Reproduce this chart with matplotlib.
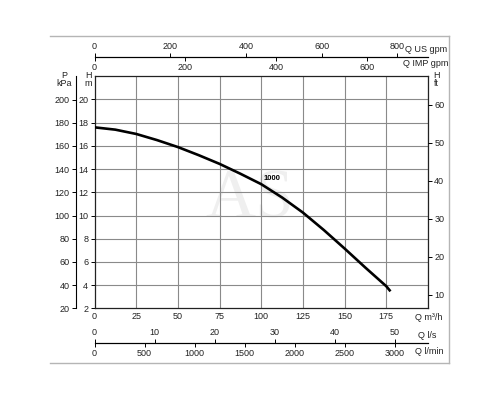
import numpy as np
import matplotlib.pyplot as plt
from matplotlib.lines import Line2D

plt.rcParams['font.family'] = ['Liberation Sans', 'DejaVu Sans']

# pump curve, Q in m3/h, H in m
q = [0, 12.5, 25, 37.5, 50, 62.5, 75, 87.5, 100, 112.5, 125, 137.5, 150, 162.5, 175, 177]
h = [17.6, 17.4, 17.03, 16.5, 15.9, 15.2, 14.45, 13.6, 12.7, 11.55, 10.25, 8.75, 7.15, 5.5, 3.9, 3.55]
curve_name = "1000"

q_ticks = [0, 25, 50, 75, 100, 125, 150, 175]
h_ticks = [2, 4, 6, 8, 10, 12, 14, 16, 18, 20]
p_ticks = [20, 40, 60, 80, 100, 120, 140, 160, 180, 200]
ft_ticks = [10, 20, 30, 40, 50, 60]
us_ticks = [0, 200, 400, 600, 800]
imp_ticks = [0, 200, 400, 600]
ls_ticks = [0, 10, 20, 30, 40, 50]
lmin_ticks = [0, 500, 1000, 1500, 2000, 2500, 3000]

QMAX = 200
W, H = 500, 400
fs = 6.5

def fx(px):
    return px / W

def fy(py):
    return 1 - py / H

fig = plt.figure(figsize=(5, 4), dpi=100)
L, R, T, B = 94.5, 428, 76.3, 308.3
ax = fig.add_axes([fx(L), fy(B), fx(R) - fx(L), fy(T) - fy(B)])

# watermark
ax.text(93, 11.3, "AS", fontsize=50, family='Liberation Serif', color='#efefef',
        ha='center', va='center', zorder=0)
ax.plot(q, h, color='black', lw=1.9, zorder=3)
ax.text(101.5, 13.15, curve_name, fontsize=5.5, fontweight='bold', ha='left', va='center',
        zorder=4)

ax.set_xlim(0, QMAX)
ax.set_ylim(2, 22)
for v in q_ticks[1:] + [QMAX]:
    ax.axvline(v, color='#8a8a8a', lw=0.8, zorder=1)
for v in h_ticks[1:]:
    ax.axhline(v, color='#8a8a8a', lw=0.8, zorder=1)
ax.set_xticks(q_ticks)
ax.set_yticks(h_ticks)
ax.tick_params(axis='x', length=0, pad=3, labelsize=fs, labelcolor='#222222')
ax.tick_params(axis='y', length=3, width=0.7, pad=1.5, labelsize=fs, labelcolor='#222222')
for s in ax.spines.values():
    s.set_linewidth(0.9)
    s.set_color('#222222')

# P kPa axis
axp = ax.twinx()
axp.set_ylim(20, 220)
axp.set_yticks(p_ticks)
axp.yaxis.set_ticks_position('left')
axp.yaxis.set_label_position('left')
axp.spines['left'].set_position(('axes', (76 - L) / (R - L)))
for k in ['right', 'top', 'bottom']:
    axp.spines[k].set_visible(False)
axp.spines['left'].set_linewidth(0.8)
axp.tick_params(axis='y', length=3, width=0.7, pad=1.5, labelsize=fs, labelcolor='#222222')

# ft axis
axf = ax.twinx()
axf.set_ylim(6.5, 67.5)
axf.set_yticks(ft_ticks)
for k in ['left', 'top', 'bottom', 'right']:
    axf.spines[k].set_visible(False)
axf.tick_params(axis='y', length=3, width=0.7, pad=1.5, labelsize=fs, labelcolor='#222222')

# flow scales above and below
def scale_axis(ypx, xmax, ticks, side):
    a = fig.add_axes([fx(L), fy(ypx), fx(R) - fx(L), 0.0001])
    a.set_xlim(0, xmax)
    a.set_yticks([])
    a.set_xticks(ticks)
    for k in ['left', 'right', 'top']:
        a.spines[k].set_visible(False)
    a.spines['bottom'].set_linewidth(0.8)
    a.patch.set_alpha(0)
    if side == 'top':
        a.tick_params(axis='x', bottom=False, labelbottom=False, top=True, labeltop=True,
                      length=3, width=0.7, pad=1, labelsize=fs, labelcolor='#222222')
    else:
        a.tick_params(axis='x', length=3, width=0.7, pad=1, labelsize=fs, labelcolor='#222222')
    return a

scale_axis(57, QMAX / 0.2271, us_ticks, 'top')
scale_axis(57, QMAX / 0.2728, imp_ticks, 'bottom')
scale_axis(343, QMAX / 3.6, ls_ticks, 'top')
scale_axis(343, QMAX / 0.06, lmin_ticks, 'bottom')

# unit labels
tc = '#222222'
fig.text(fx(405), fy(50), "Q US gpm", fontsize=fs, va='center', color=tc)
fig.text(fx(403), fy(63.5), "Q IMP gpm", fontsize=fs, va='center', color=tc)
fig.text(fx(64), fy(75), "P", fontsize=fs, ha='center', va='center', color=tc)
fig.text(fx(64), fy(84), "kPa", fontsize=fs, ha='center', va='center', color=tc)
fig.text(fx(88), fy(75), "H", fontsize=fs, ha='center', va='center', color=tc)
fig.text(fx(88), fy(84), "m", fontsize=fs, ha='center', va='center', color=tc)
fig.text(fx(436), fy(75), "H", fontsize=fs, ha='center', va='center', color=tc)
fig.text(fx(436), fy(84), "ft", fontsize=fs, ha='center', va='center', color=tc)
fig.text(fx(415), fy(317), "Q m³/h", fontsize=fs, va='center', color=tc)
fig.text(fx(418), fy(335), "Q l/s", fontsize=fs, va='center', color=tc)
fig.text(fx(415), fy(352), "Q l/min", fontsize=fs, va='center', color=tc)

# outer frame
c = '#b5b5b5'
fig.add_artist(Line2D([fx(50), fx(449)], [fy(36), fy(36)], color=c, lw=1))
fig.add_artist(Line2D([fx(50), fx(449)], [fy(363), fy(363)], color=c, lw=1))
fig.add_artist(Line2D([fx(449), fx(449)], [fy(36), fy(363)], color=c, lw=1))

fig.savefig("out.png", dpi=100)
